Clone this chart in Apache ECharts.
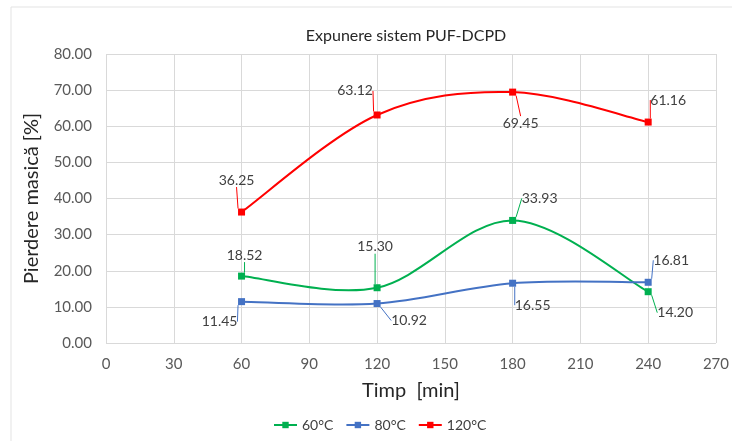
<!DOCTYPE html>
<html>
<head>
<meta charset="utf-8">
<script src="https://cdn.jsdelivr.net/npm/echarts@6/dist/echarts.min.js"></script>
<style>
  html, body { margin: 0; padding: 0; background: #fff; }
  #chart { width: 732px; height: 441px; }
</style>
</head>
<body>
<div id="chart"></div>
<script>
// Exposure times [min]
const times = [60, 120, 180, 240];
// Mass loss [%] per exposure temperature
const loss60 = [18.52, 15.30, 33.93, 14.20];
const loss80 = [11.45, 10.92, 16.55, 16.81];
const loss120 = [36.25, 63.12, 69.45, 61.16];
const seriesNames = ['60°C', '80°C', '120°C'];
const colors = ['#00b050', '#4472c4', '#ff0000'];

// Label offsets (px) from each marker, per series
const offsets60 = [[3, -21], [-2, -41], [27, -22], [27, 21]];
const offsets80 = [[-22, 20], [32, 17], [20, 22], [23, -22]];
const offsets120 = [[-5, -32], [-22, -24], [8, 31], [20, -22]];

const FONT = 'Lato, "Open Sans", sans-serif';

function pairs(vals) {
  return times.map((t, i) => [t, vals[i]]);
}

// Smoothed curve through the points: one cubic Bezier per segment,
// tangents from the neighbouring points (Catmull-Rom, factor 1/6).
function curveSeries(name, vals, color) {
  const pts = pairs(vals);
  return {
    name: name,
    type: 'custom',
    z: 1,
    silent: true,
    data: pts.slice(0, -1),
    renderItem: function (params, api) {
      const i = params.dataIndex;
      const P = pts.map(p => api.coord(p));
      const p0 = P[Math.max(i - 1, 0)];
      const p1 = P[i];
      const p2 = P[i + 1];
      const p3 = P[Math.min(i + 2, P.length - 1)];
      return {
        type: 'bezierCurve',
        shape: {
          x1: p1[0], y1: p1[1],
          x2: p2[0], y2: p2[1],
          cpx1: p1[0] + (p2[0] - p0[0]) / 6,
          cpy1: p1[1] + (p2[1] - p0[1]) / 6,
          cpx2: p2[0] - (p3[0] - p1[0]) / 6,
          cpy2: p2[1] - (p3[1] - p1[1]) / 6
        },
        style: { fill: null, stroke: color, lineWidth: 2 }
      };
    }
  };
}

function markerSeries(name, vals, color, offs) {
  return {
    name: name,
    type: 'line',
    z: 3,
    data: pairs(vals),
    symbol: 'rect',
    symbolSize: 7,
    lineStyle: { color: color, width: 0, opacity: 0 },
    itemStyle: { color: color },
    label: {
      show: true,
      position: 'inside',
      formatter: p => p.value[1].toFixed(2),
      color: '#404040',
      fontSize: 14,
      fontFamily: FONT
    },
    labelLine: { show: true, lineStyle: { color: color, width: 1 } },
    labelLayout: p => ({ dx: offs[p.dataIndex][0], dy: offs[p.dataIndex][1] })
  };
}

const chart = echarts.init(document.getElementById('chart'));
chart.setOption({
  animation: false,
  textStyle: { fontFamily: FONT },
  title: {
    text: 'Expunere sistem PUF-DCPD',
    left: 401,
    top: 23,
    textAlign: 'center',
    textStyle: { fontSize: 16, fontWeight: 'normal', color: '#262626', fontFamily: FONT }
  },
  graphic: [{
    type: 'rect',
    shape: { x: 11, y: 7, width: 760, height: 480 },
    style: { fill: 'none', stroke: '#e3e3e3', lineWidth: 1 },
    silent: true,
    z: -1
  }],
  grid: { left: 106, right: 12, top: 54, bottom: 98 },
  legend: {
    data: seriesNames.map((n, i) => ({
      name: n,
      lineStyle: { color: colors[i], width: 2, opacity: 1 }
    })),
    top: 413,
    left: 268,
    itemWidth: 23,
    itemHeight: 8,
    itemGap: 12,
    textStyle: { fontSize: 14, color: '#404040', fontFamily: FONT }
  },
  xAxis: {
    type: 'value',
    min: 0,
    max: 270,
    interval: 30,
    name: 'Timp  [min]',
    nameLocation: 'middle',
    nameGap: 38,
    nameTextStyle: { fontSize: 20, color: '#262626', fontFamily: FONT },
    axisLine: { show: false },
    axisTick: { show: false },
    axisLabel: { color: '#595959', fontSize: 15, margin: 14, fontFamily: FONT },
    splitLine: { show: true, lineStyle: { color: '#d9d9d9', width: 1 } }
  },
  yAxis: {
    type: 'value',
    min: 0,
    max: 80,
    interval: 10,
    name: 'Pierdere masică [%]',
    nameLocation: 'middle',
    nameGap: 64,
    nameTextStyle: { fontSize: 20, color: '#262626', fontFamily: FONT },
    axisLine: { show: false },
    axisTick: { show: false },
    axisLabel: { color: '#595959', fontSize: 15, margin: 14, formatter: v => v.toFixed(2), fontFamily: FONT },
    splitLine: { show: true, lineStyle: { color: '#d9d9d9', width: 1 } }
  },
  series: [
    markerSeries(seriesNames[0], loss60, colors[0], offsets60),
    markerSeries(seriesNames[1], loss80, colors[1], offsets80),
    markerSeries(seriesNames[2], loss120, colors[2], offsets120),
    curveSeries('curve60', loss60, colors[0]),
    curveSeries('curve80', loss80, colors[1]),
    curveSeries('curve120', loss120, colors[2])
  ]
});
</script>
</body>
</html>
